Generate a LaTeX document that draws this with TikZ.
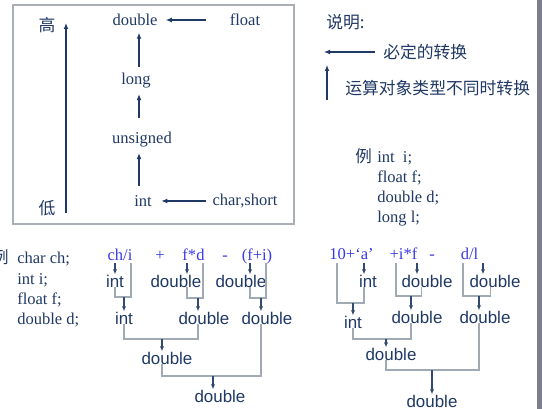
\documentclass[tikz,border=0pt]{standalone}
\usepackage{fontspec}
\setmainfont{Liberation Serif}
\setsansfont{Liberation Sans}
\newfontfamily\cjk{Noto Sans CJK SC}
\usetikzlibrary{arrows.meta,positioning}
\definecolor{ink}{HTML}{1F3864}
\definecolor{exprblue}{HTML}{3838E6}
\definecolor{wiregray}{HTML}{A0AAB4}
\definecolor{framegray}{HTML}{A9AFB5}
\definecolor{edgebar}{HTML}{7F7E8E}

\begin{document}
\begin{tikzpicture}[x=0.75pt,y=-0.75pt]
    \tikzset{
      lbl/.style={inner sep=0pt,text=ink,font=\fontsize{12.4}{15.2}\selectfont},
      cn/.style={inner sep=0pt,text=ink,font=\fontsize{12.6}{15.2}\selectfont\cjk},
      ty/.style={inner sep=0pt,text=ink,font=\fontsize{12.7}{15.2}\selectfont\sffamily},
      ex/.style={inner sep=0pt,text=exprblue,font=\fontsize{12.4}{15.2}\selectfont,anchor=base},
      arrow/.style={-{Latex[length=4.5pt,width=3.6pt]},draw=ink,line width=0.8pt},
      tip/.style={-{Latex[length=3.8pt,width=3pt]},draw=ink!85!wiregray,line width=0.9pt},
      branch/.style={draw=wiregray,line width=0.9pt}
    }
    \useasboundingbox (0,0) rectangle (542,409);
    \fill[edgebar] (537,0) rectangle (542,409);
    \draw[framegray,line width=1pt] (13,5) rectangle (294,224);

    \node[cn] (hi) at (47,25) {高};
    \node[cn] (lo) at (47,208) {低};
    \coordinate (scale-lo) at (66,213);
    \coordinate (scale-hi) at (66,23);
    \draw[arrow,line width=1.1pt] (scale-lo) -- (scale-hi);

    \node[lbl] (dbl) at (135,20) {double};
    \node[lbl] (flt) at (245,20) {float};
    \node[lbl] (lng) at (136,81) {long};
    \node[lbl] (uns) at (142,140) {unsigned};
    \node[lbl] (int) at (143,201) {int};
    \node[lbl] (chs) at (245,201) {char,short};
    \coordinate (axis) at (139,0);
    \draw[arrow,shorten <=18pt,shorten >=6pt] (flt) -- (dbl);
    \draw[arrow,shorten <=5pt,shorten >=7pt] (chs) -- (int);
    \draw[arrow,shorten <=5pt,shorten >=5pt] (axis |- lng.north) -- (axis |- dbl.south);
    \draw[arrow,shorten <=11pt,shorten >=4pt] (axis |- uns.north) -- (axis |- lng.south);
    \draw[arrow,shorten <=7pt,shorten >=4pt] (axis |- int.north) -- (axis |- uns.south);

    \node[cn,anchor=west] (note) at (326,22) {说明:};
    \node[cn,anchor=west] (must) at (383,52) {必定的转换};
    \node[cn,anchor=west] (mixed) at (345,88) {运算对象类型不同时转换};
    \coordinate (must-head) at (324,52);
    \coordinate (mix-tail) at (327,100);
    \coordinate (mix-head) at (327,65);
    \draw[arrow,shorten <=6pt] (must.west) -- (must-head);
    \draw[arrow] (mix-tail) -- (mix-head);

    \node[lbl,anchor=base west] (r-int) at (377,163) {\llap{{\cjk 例}\hspace{4pt}}int\ \ i;};
    \node[lbl,anchor=base west] (r-flt) at (377,183) {float f;};
    \node[lbl,anchor=base west] (r-dbl) at (377,203) {double d;};
    \node[lbl,anchor=base west] (r-lng) at (377,223) {long l;};

    \node[lbl,anchor=base west] (l-chr) at (17,264) {\llap{{\cjk 例}\hspace{6.5pt}}char ch;};
    \node[lbl,anchor=base west] (l-int) at (17,284.5) {int i;};
    \node[lbl,anchor=base west] (l-flt) at (17,305) {float f;};
    \node[lbl,anchor=base west] (l-dbl) at (17,325) {double d;};

    \node[ex] (e-chi) at (120,261) {ch/i};
    \node[ex] (e-add) at (160,261) {+};
    \node[ex] (e-fd) at (193.5,261) {f*d};
    \node[ex] (e-sub) at (225,261) {-};
    \node[ex] (e-fi) at (257,261) {(f+i)};

    \node[ty] (i1) at (115,281) {int};
    \node[ty] (d1) at (176,281) {double};
    \node[ty] (d2) at (241,281) {double};
    \node[ty] (i2) at (124,318) {int};
    \node[ty] (d3) at (204,318) {double};
    \node[ty] (d4) at (267,318) {double};
    \node[ty] (d5) at (167,358) {double};
    \node[ty] (d6) at (220,396) {double};

    \coordinate (ch-src) at (115,263);
    \coordinate (i-src) at (131,263);
    \coordinate (f-src) at (187,263);
    \coordinate (d-src) at (203,263);
    \coordinate (f2-src) at (250,263);
    \coordinate (i2-src) at (266,263);
    \coordinate (j1) at (124,297);
    \coordinate (j2) at (198,298);
    \coordinate (j3) at (261,298);
    \coordinate (j4) at (162,339);
    \coordinate (j5) at (213,376);

    \draw[branch] (i1.south) |- (j1) -| (i-src);
    \draw[branch] (f-src |- d1.south) |- (j2) -| (d-src);
    \draw[branch] (f2-src |- d2.south) |- (j3) -| (i2-src);
    \draw[branch] (i2.south) |- (j4) -| (j2 |- d3.south);
    \draw[branch] (j4 |- d5.south) |- (j5) -| (j3 |- d4.south);
    \draw[tip] (ch-src) -- (ch-src |- i1.north);
    \draw[tip] (f-src) -- (f-src |- d1.north);
    \draw[tip] (f2-src) -- (f2-src |- d2.north);
    \draw[tip] (j1) -- (j1 |- i2.north);
    \draw[tip] (j2) -- (j2 |- d3.north);
    \draw[tip] (j3) -- (j3 |- d4.north);
    \draw[tip] (j4) -- (j4 |- d5.north);
    \draw[tip] (j5) -- (j5 |- d6.north);

    \node[ex] (e-ten) at (351.5,260) {10+‘a’};
    \node[ex] (e-if) at (403.5,260) {+i*f};
    \node[ex] (e-min) at (432,260) {-};
    \node[ex] (e-dl) at (469.5,260) {d/l};

    \node[ty] (i3) at (368,281) {int};
    \node[ty] (d7) at (427,281) {double};
    \node[ty] (d8) at (495,281) {double};
    \node[ty] (i4) at (353,322) {int};
    \node[ty] (d9) at (417,317) {double};
    \node[ty] (d10) at (485,317) {double};
    \node[ty] (d11) at (391,354) {double};
    \node[ty] (d12) at (432,401) {double};

    \coordinate (ten-src) at (337,263);
    \coordinate (a-src) at (364,263);
    \coordinate (pi-src) at (396,263);
    \coordinate (pf-src) at (417,263);
    \coordinate (dd-src) at (463,263);
    \coordinate (l-src) at (483,263);
    \coordinate (j6) at (353,303);
    \coordinate (j7) at (411,296);
    \coordinate (j8) at (479,296);
    \coordinate (j9) at (386,339);
    \coordinate (j10) at (432,370);

    \draw[branch] (ten-src) |- (j6) -| (a-src |- i3.south);
    \draw[branch] (pi-src) |- (j7) -| ([xshift=-4pt]d7.south);
    \draw[branch] (dd-src) |- (j8) -| ([xshift=-3.4pt]d8.south);
    \draw[branch] (i4.south) |- (j9) -| (j7 |- d9.south);
    \draw[branch] (j9 |- d11.south) |- (j10) -| (j8 |- d10.south);
    \draw[tip] (a-src) -- (a-src |- i3.north);
    \draw[tip] (pf-src) -- (pf-src |- d7.north);
    \draw[tip] (l-src) -- (l-src |- d8.north);
    \draw[tip] (j6) -- (j6 |- i4.north);
    \draw[tip] (j7) -- (j7 |- d9.north);
    \draw[tip] (j8) -- (j8 |- d10.north);
    \draw[tip] (j9) -- (j9 |- d11.north);
    \draw[tip] (j10) -- (j10 |- d12.north);
  \end{tikzpicture}
\end{document}
